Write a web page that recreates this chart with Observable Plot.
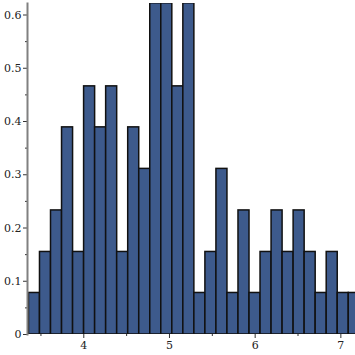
<!DOCTYPE html>
<html>
<head>
<meta charset="utf-8">
<script src="https://cdn.jsdelivr.net/npm/d3@7"></script>
<script src="https://cdn.jsdelivr.net/npm/@observablehq/plot@0.6"></script>
<style>
  html, body { margin: 0; padding: 0; background: #fff; }
</style>
</head>
<body>
<div id="chart"></div>
<script>
// Histogram (density) data
const binStart = 3.36;
const binWidth = 0.1287;
const densities = [
  0.078, 0.155, 0.233, 0.389, 0.155, 0.466, 0.389, 0.466, 0.155, 0.389,
  0.311, 0.622, 0.622, 0.466, 0.622, 0.078, 0.155, 0.311, 0.078, 0.233,
  0.078, 0.155, 0.233, 0.155, 0.233, 0.155, 0.078, 0.155, 0.078, 0.078
];
const xTicks = [4, 5, 6, 7];
const xMinorTicks = [3.5, 4.5, 5.5, 6.5];
const yTicks = [0, 0.1, 0.2, 0.3, 0.4, 0.5, 0.6];
const yMinorTicks = [0.05, 0.15, 0.25, 0.35, 0.45, 0.55];

const bins = densities.map((d, i) => ({
  x1: binStart + i * binWidth,
  x2: binStart + (i + 1) * binWidth,
  y: d
}));

const chart = Plot.plot({
  width: 355,
  height: 355,
  marginLeft: 27,
  marginRight: 0,
  marginTop: 3,
  marginBottom: 21,
  style: { fontFamily: "DejaVu Serif", fontSize: "11px", color: "#222", background: "#fff" },
  x: { domain: [3.343, 7.171], label: null },
  y: { domain: [0, 0.6216], label: null },
  marks: [
    Plot.rectY(bins, { x1: "x1", x2: "x2", y: "y", fill: "#3d5a8c", stroke: "#111", strokeWidth: 1.5, clip: true }),
    Plot.axisX({ ticks: xTicks, tickSize: 4, tickPadding: 3, tickFormat: d => String(d), stroke: "#333", fill: "#222", label: null }),
    Plot.axisX({ ticks: xMinorTicks, tickSize: 2, text: null, stroke: "#333", label: null }),
    Plot.axisY({ ticks: yTicks, tickSize: 4, tickPadding: 2, tickFormat: d => d === 0 ? "0" : d3.format(".1f")(d), stroke: "#333", fill: "#222", label: null }),
    Plot.axisY({ ticks: yMinorTicks, tickSize: 2, text: null, stroke: "#333", label: null }),
    Plot.frame({ anchor: "left", stroke: "#808080", strokeWidth: 2 })
  ]
});
document.getElementById("chart").append(chart);
</script>
</body>
</html>
